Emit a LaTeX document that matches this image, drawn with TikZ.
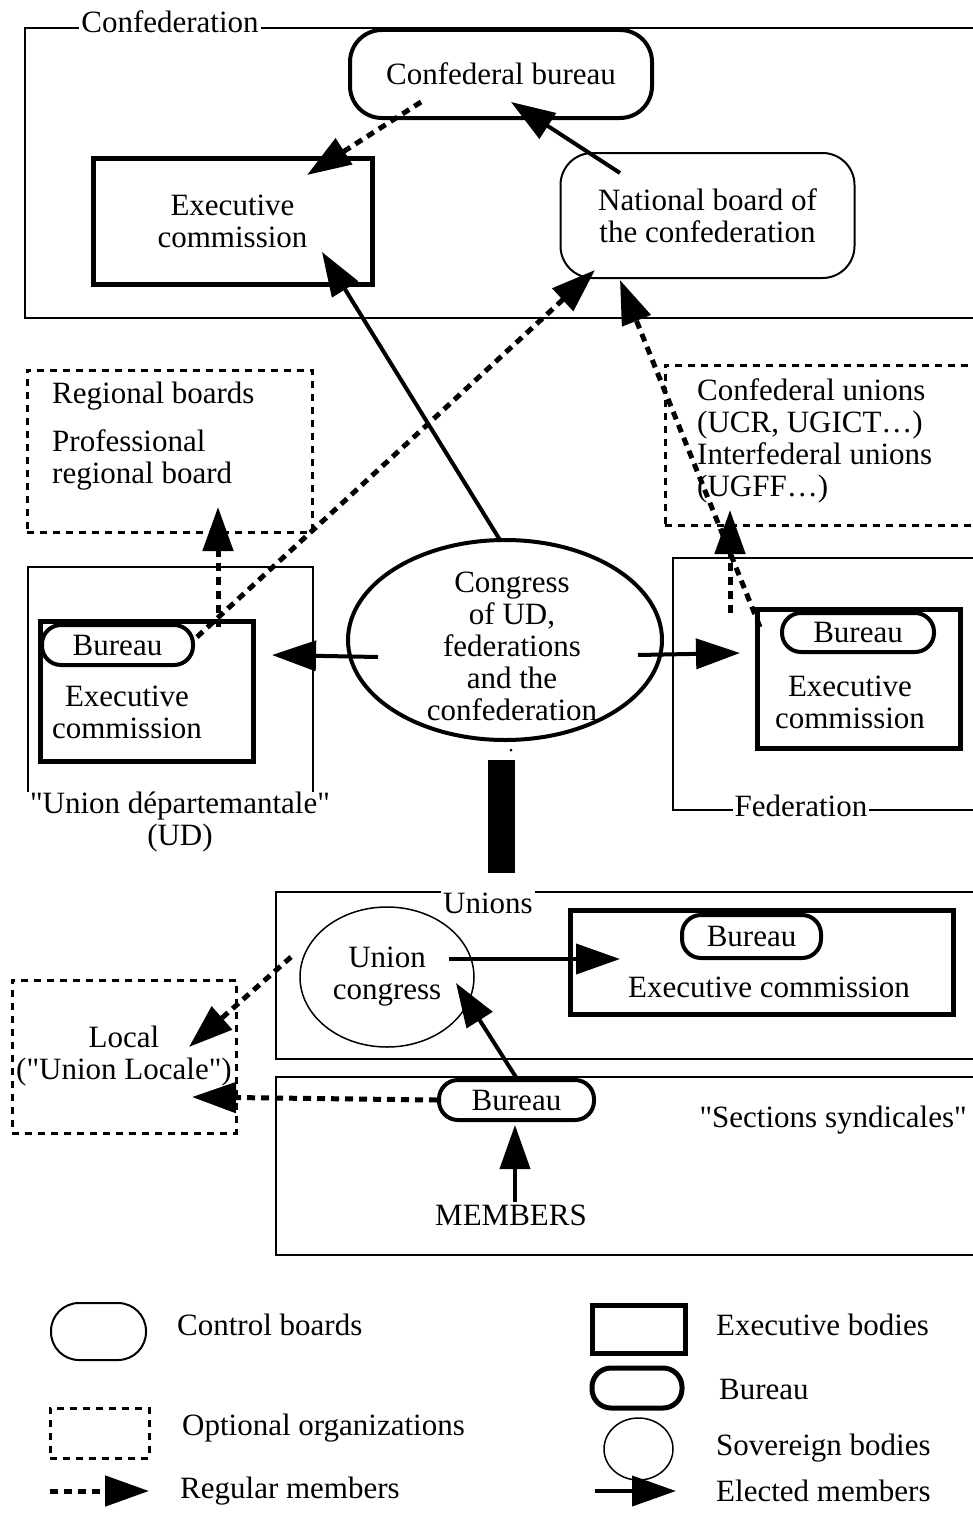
\documentclass[tikz,border=0pt]{standalone}
\usepackage{fontspec}
\setmainfont{Liberation Serif}[Ligatures=TeXOff]
\usetikzlibrary{arrows.meta,shapes.geometric,calc}

\begin{document}
\begin{tikzpicture}
  [
    x=1pt, y=-1pt,
    every node/.style={font=\fontsize{31}{32}\selectfont, inner sep=0pt},
    txt/.style={align=center},
    ltxt/.style={align=left, anchor=west},
    ctrl/.style={draw=black, line width=2pt, rounded corners=32pt},
    exe/.style={draw=black, line width=5pt},
    bur/.style={draw=black, line width=4pt, rounded corners=19pt},
    sov/.style={draw=black, ellipse, line width=1.5pt},
    opt/.style={draw=black, line width=3pt, dash pattern=on 7pt off 6pt},
    frm/.style={draw=black, line width=2.5pt},
    ttl/.style={fill=white, inner xsep=2pt, inner ysep=3pt},
    el/.style={draw=black, line width=4pt, -{Triangle[length=44pt,width=30pt]}},
    rg/.style={draw=black, line width=5pt, dash pattern=on 8pt off 6pt,
      -{Triangle[length=44pt,width=30pt]}}
  ]
  \fill [white] (0,0) rectangle (972,1520);
  \useasboundingbox (0,0) rectangle (972,1520);

  % frames
  \draw [frm] (990,28) -- (25,28) -- (25,318) -- (990,318);
  \node (tconf) at (170,22) [ttl] {Confederation};
  \draw [frm] (28,792) -- (28,567) -- (313,567) -- (313,792);
  \node (tud) at (180,822) [txt] {"Union départemantale"\\(UD)};
  \draw [frm] (990,558) -- (673,558) -- (673,810) -- (990,810);
  \node (tfed) at (801,806) [ttl] {Federation};
  \draw [frm] (990,892) -- (276,892) -- (276,1059) -- (990,1059);
  \node (tunions) at (488,903) [ttl] {Unions};
  \draw [frm] (990,1077) -- (276,1077) -- (276,1255) -- (990,1255);
  \node (tsect) at (967,1120) [anchor=east] {"Sections syndicales"};

  % confederation
  \node (cbureau) at (501,74) [ctrl, line width=4pt, minimum width=302pt, minimum height=88pt] {Confederal bureau};
  \node (cexec) at (232.5,221) [exe, minimum width=279pt, minimum height=126pt, txt] {Executive\\commission};
  \node (nboard) at (707.5,215.5) [ctrl, minimum width=294pt, minimum height=125pt, txt] {National board of\\the confederation};

  % optional organizations
  \node (regional) at (169.5,451) [opt, minimum width=285pt, minimum height=162pt] {};
  \node (regtxt) at (52,436) [ltxt] {Regional boards\\[16pt]Professional\\regional board};
  \node (cunions) at (827.5,445) [opt, minimum width=325pt, minimum height=160pt] {};
  \node (cuntxt) at (697,441) [ltxt] {Confederal unions\\(UCR, UGICT…)\\Interfederal unions\\(UGFF…)};
  \node (local) at (124,1056.5) [opt, minimum width=224pt, minimum height=153pt, txt] {Local\\("Union Locale")};

  % UD
  \node (udexec) at (147,691) [exe, minimum width=213pt, minimum height=140pt] {};
  \node (udbureau) at (117.5,645) [bur, minimum width=151pt, minimum height=40pt] {Bureau};
  \node (udtxt) at (127,712) [txt] {Executive\\commission};

  % congress
  \node (congress) at (505,640) [sov, line width=4pt, minimum width=314pt, minimum height=200pt] {};
  \node (congtxt) at (512,646) [txt] {Congress\\of UD,\\federations\\and the\\confederation};
  \node (dot) at (511,750) [circle, fill=black, minimum size=3pt] {};
  \node (bar) at (501.5,816.5) [fill=black, minimum width=27pt, minimum height=113pt] {};

  % federation
  \node (fedexec) at (858.5,678.5) [exe, minimum width=203pt, minimum height=139pt] {};
  \node (fedbureau) at (858,632.5) [bur, minimum width=152pt, minimum height=39pt] {Bureau};
  \node (fedtxt) at (850,702) [txt] {Executive\\commission};

  % unions
  \node (ucongress) at (387,977) [sov, minimum width=174pt, minimum height=140pt, txt] {Union\\congress};
  \node (uexec) at (761.5,962) [exe, minimum width=383pt, minimum height=104pt] {};
  \node (ubureau) at (751.5,936.5) [bur, minimum width=139pt, minimum height=43pt] {Bureau};
  \node (uextxt) at (769,987) {Executive commission};
  \coordinate (uleft) at (291,957);

  % sections
  \node (sbureau) at (516.5,1100) [bur, minimum width=155pt, minimum height=40pt] {Bureau};
  \node (members) at (511,1215) {MEMBERS};

  % links
  \draw [rg] ($(cbureau)+(-80,28)$) -- ($(cexec)+(74.5,-46)$);
  \draw [el] ($(nboard)+(-87.5,-42.5)$) -- ($(cbureau)+(10,28)$);
  \draw [el] ($(congress)+(-5,-100)$) -- ($(cexec)+(89.5,31)$);
  \draw [rg] ($(udbureau)+(79.5,-8)$) -- ($(nboard)+(-112.5,54.5)$);
  \draw [rg] ($(fedbureau)+(-98,-5.5)$) -- ($(nboard)+(-87.5,64.5)$);
  \draw [rg] ($(fedbureau)+(-128,-19.5)$) -- ($(cunions)+(-97.5,65)$);
  \draw [rg] ($(udbureau)+(100.5,-18)$) -- ($(regional)+(48.5,56)$);
  \draw [el] ($(congress)+(-127,17)$) -- ($(udexec)+(125,-36)$);
  \draw [el] ($(congress)+(133,15)$) -- ($(fedexec)+(-118.5,-25.5)$);
  \draw [el] ($(ucongress)+(62,-18)$) -- ($(uexec)+(-141.5,-3)$);
  \draw [el] (sbureau.north) -- ($(ucongress)+(69,6)$);
  \draw [el] ($(members)+(4,-13)$) -- ($(sbureau)+(-1.5,25)$);
  \draw [rg] (sbureau.west) -- ($(local)+(68,40.5)$);
  \draw [rg] (uleft) -- ($(local)+(65,-9.5)$);

  % legend
  \node (lctrl) at (98.5,1331.5) [ctrl, minimum width=95pt, minimum height=57pt, rounded corners=28pt] {};
  \node (lctrltxt) at (177,1325) [ltxt] {Control boards};
  \node (lopt) at (99.5,1433) [opt, minimum width=99pt, minimum height=50pt] {};
  \node (lopttxt) at (182,1428) [ltxt] {Optional organizations};
  \coordinate (lrga) at (50,1491);
  \coordinate (lrgb) at (149,1491);
  \draw [rg] (lrga) -- (lrgb);
  \node (lrgtxt) at (180,1491) [ltxt] {Regular members};
  \node (lexe) at (638.5,1329) [exe, minimum width=93pt, minimum height=48pt] {};
  \node (lexetxt) at (716,1325) [ltxt] {Executive bodies};
  \node (lbur) at (637,1388) [bur, line width=5pt, minimum width=90pt, minimum height=40pt] {};
  \node (lburtxt) at (719,1389) [ltxt] {Bureau};
  \node (lsov) at (638.5,1449) [sov, minimum width=69pt, minimum height=62pt] {};
  \node (lsovtxt) at (716,1448) [ltxt] {Sovereign bodies};
  \coordinate (lela) at (595,1491);
  \coordinate (lelb) at (676,1491);
  \draw [el] (lela) -- (lelb);
  \node (leltxt) at (716,1491) [ltxt] {Elected members};
\end{tikzpicture}
\end{document}
